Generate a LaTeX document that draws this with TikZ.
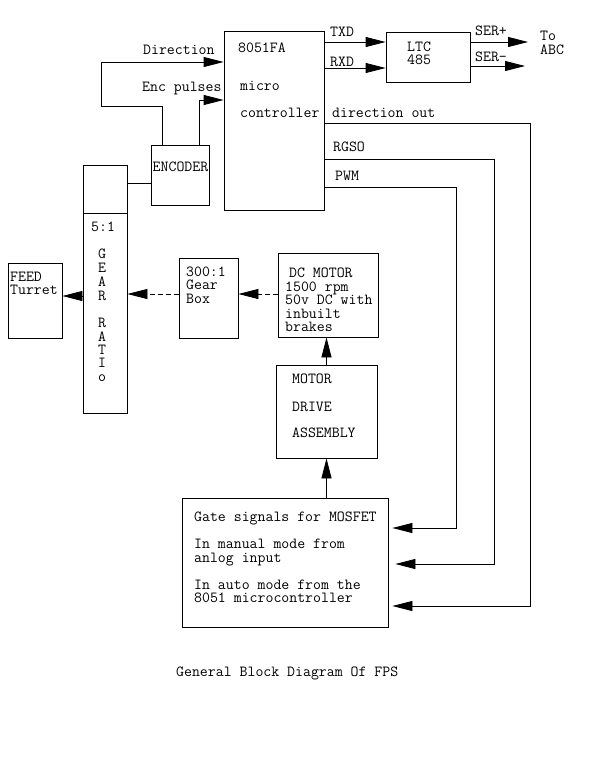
\documentclass[tikz,border=0pt]{standalone}
\usepackage{fontspec}
\usetikzlibrary{shapes,arrows.meta}

\begin{document}
\begin{tikzpicture}[x=1pt,y=-1pt]
				\tikzstyle{common} = [draw, line width=0.8pt]
				\tikzstyle{block} = [rectangle, common, inner sep=0pt]
				\tikzstyle{txt} = [inner sep=0pt, anchor=west, text height=9pt, text depth=0pt, font=\ttfamily\fontsize{15.4}{16}\selectfont]
				\tikzstyle{ctxt} = [txt, anchor=center]
				\tikzstyle{wire} = [draw, line width=0.8pt]
				\tikzstyle{line} = [wire, -{Triangle[length=20pt,width=10pt]}]
				\tikzstyle{dline} = [line, dash pattern=on 5pt off 3pt]
				\useasboundingbox (0,0) rectangle (593,768);

				% blocks
				\node[block, minimum width=100, minimum height=179] (mcu) at (274,120.5) {};
				\node[block, minimum width=84, minimum height=50] (ltc) at (428,57) {};
				\node[block, minimum width=58, minimum height=60] (enc) at (180,175) {};
				\node[block, minimum width=44, minimum height=248] (gear) at (105,289) {};
				\node[block, minimum width=54, minimum height=75] (feed) at (35,300.5) {};
				\node[block, minimum width=59, minimum height=80] (gbox) at (208.5,298) {};
				\node[block, minimum width=100, minimum height=84] (motor) at (328,295) {};
				\node[block, minimum width=101, minimum height=93] (drive) at (326.5,411.5) {};
				\node[block, minimum width=206, minimum height=129] (gate) at (285,562.5) {};
				\draw[wire] (gear.west |- 0,213) -- (gear.east |- 0,213);

				% texts
				\node[txt] (mcu1) at (238,48) {8051FA};
				\node[txt] (mcu2) at (240,86) {micro};
				\node[txt] (mcu3) at (240,113) {controller};
				\node[ctxt] (enctxt) at (180.5,167) {ENCODER};
				\node[txt] (ltc1) at (407,47) {LTC};
				\node[txt] (ltc2) at (407,60) {485};
				\node[txt] (feed1) at (10,277) {FEED};
				\node[txt] (feed2) at (10,290) {Turret};
				\node[txt] (gbox1) at (186,272) {300:1};
				\node[txt] (gbox2) at (186,285) {Gear};
				\node[txt] (gbox3) at (186,299) {Box};
				\node[txt] (motor1) at (289,273) {DC MOTOR};
				\node[txt] (motor2) at (285,287) {1500 rpm};
				\node[txt] (motor3) at (285,300) {50v DC with};
				\node[txt] (motor4) at (285,314) {inbuilt};
				\node[txt] (motor5) at (285,327) {brakes};
				\node[txt] (drive1) at (292,379) {MOTOR};
				\node[txt] (drive2) at (292,407) {DRIVE};
				\node[txt] (drive3) at (292,433) {ASSEMBLY};
				\node[txt] (gate1) at (194,517) {Gate signals for MOSFET};
				\node[txt] (gate2) at (194,544) {In manual mode from};
				\node[txt] (gate3) at (194,558) {anlog input};
				\node[txt] (gate4) at (194,585) {In auto mode from the};
				\node[txt] (gate5) at (194,598) {8051 microcontroller};
				\node[txt] (ratio) at (91,227) {5:1};
				\node[ctxt] (rg) at (102,254) {G};
				\node[ctxt] (re) at (102,268) {E};
				\node[ctxt] (ra) at (102,282) {A};
				\node[ctxt] (rr) at (102,296) {R};
				\node[ctxt] (rr2) at (102,323) {R};
				\node[ctxt] (ra2) at (102,337) {A};
				\node[ctxt] (rt) at (102,350) {T};
				\node[ctxt] (ri) at (102,363) {I};
				\node[ctxt] (ro) at (102,377) {o};

				% signal labels
				\node[txt] (ldir) at (143,50) {Direction};
				\node[txt] (lenc) at (142,87) {Enc pulses};
				\node[txt] (ltxd) at (330,32) {TXD};
				\node[txt] (lrxd) at (330,62) {RXD};
				\node[txt] (lserp) at (475,31) {SER+};
				\node[txt] (lsern) at (475,57) {SER-};
				\node[txt] (lto) at (540,36) {To};
				\node[txt] (labc) at (540,50) {ABC};
				\node[txt] (ldirout) at (332,113) {direction out};
				\node[txt] (lrgso) at (333,147) {RGSO};
				\node[txt] (lpwm) at (335,176) {PWM};
				\node[txt] (caption) at (176,672) {General Block Diagram Of FPS};

				% bends
				\coordinate (dirbend) at (101,106);
				\coordinate (serp) at (528,42);
				\coordinate (sern) at (525,66);
				\coordinate (pwm) at (456,528);
				\coordinate (rgso) at (494,564);
				\coordinate (dirout) at (530,606);

				% connectors
				\draw[line] ([xshift=-18pt]enc.north) |- (dirbend) |- (mcu.west |- 0,62);
				\draw[line] ([xshift=19pt]enc.north) |- (mcu.west |- 0,100);
				\draw[wire] (gear.east |- 0,183) -- (enc.west |- 0,183);
				\draw[line] (mcu.east |- 0,42) -- (ltc.west |- 0,42);
				\draw[line] (mcu.east |- 0,68) -- (ltc.west |- 0,68);
				\draw[line] (ltc.east |- serp) -- (serp);
				\draw[line] (ltc.east |- sern) -- (sern);
				\draw[line, shorten >=4pt] (mcu.east |- 0,187) -| (pwm) -- (gate.east |- pwm);
				\draw[line, shorten >=7pt] (mcu.east |- 0,159) -| (rgso) -- (gate.east |- rgso);
				\draw[line, shorten >=4pt] (mcu.east |- 0,123) -| (dirout) -- (gate.east |- dirout);
				\draw[line] (drive.south |- gate.north) -- (drive.south);
				\draw[line] (drive.north) -- (drive.north |- motor.south);
				\draw[dline] (motor.west |- 0,294) -- (gbox.east |- 0,294);
				\draw[dline] (gbox.west |- 0,294) -- (gear.east |- 0,294);
				\draw[line] (gear.west |- 0,296) -- (feed.east |- 0,296);
			\end{tikzpicture}
\end{document}
